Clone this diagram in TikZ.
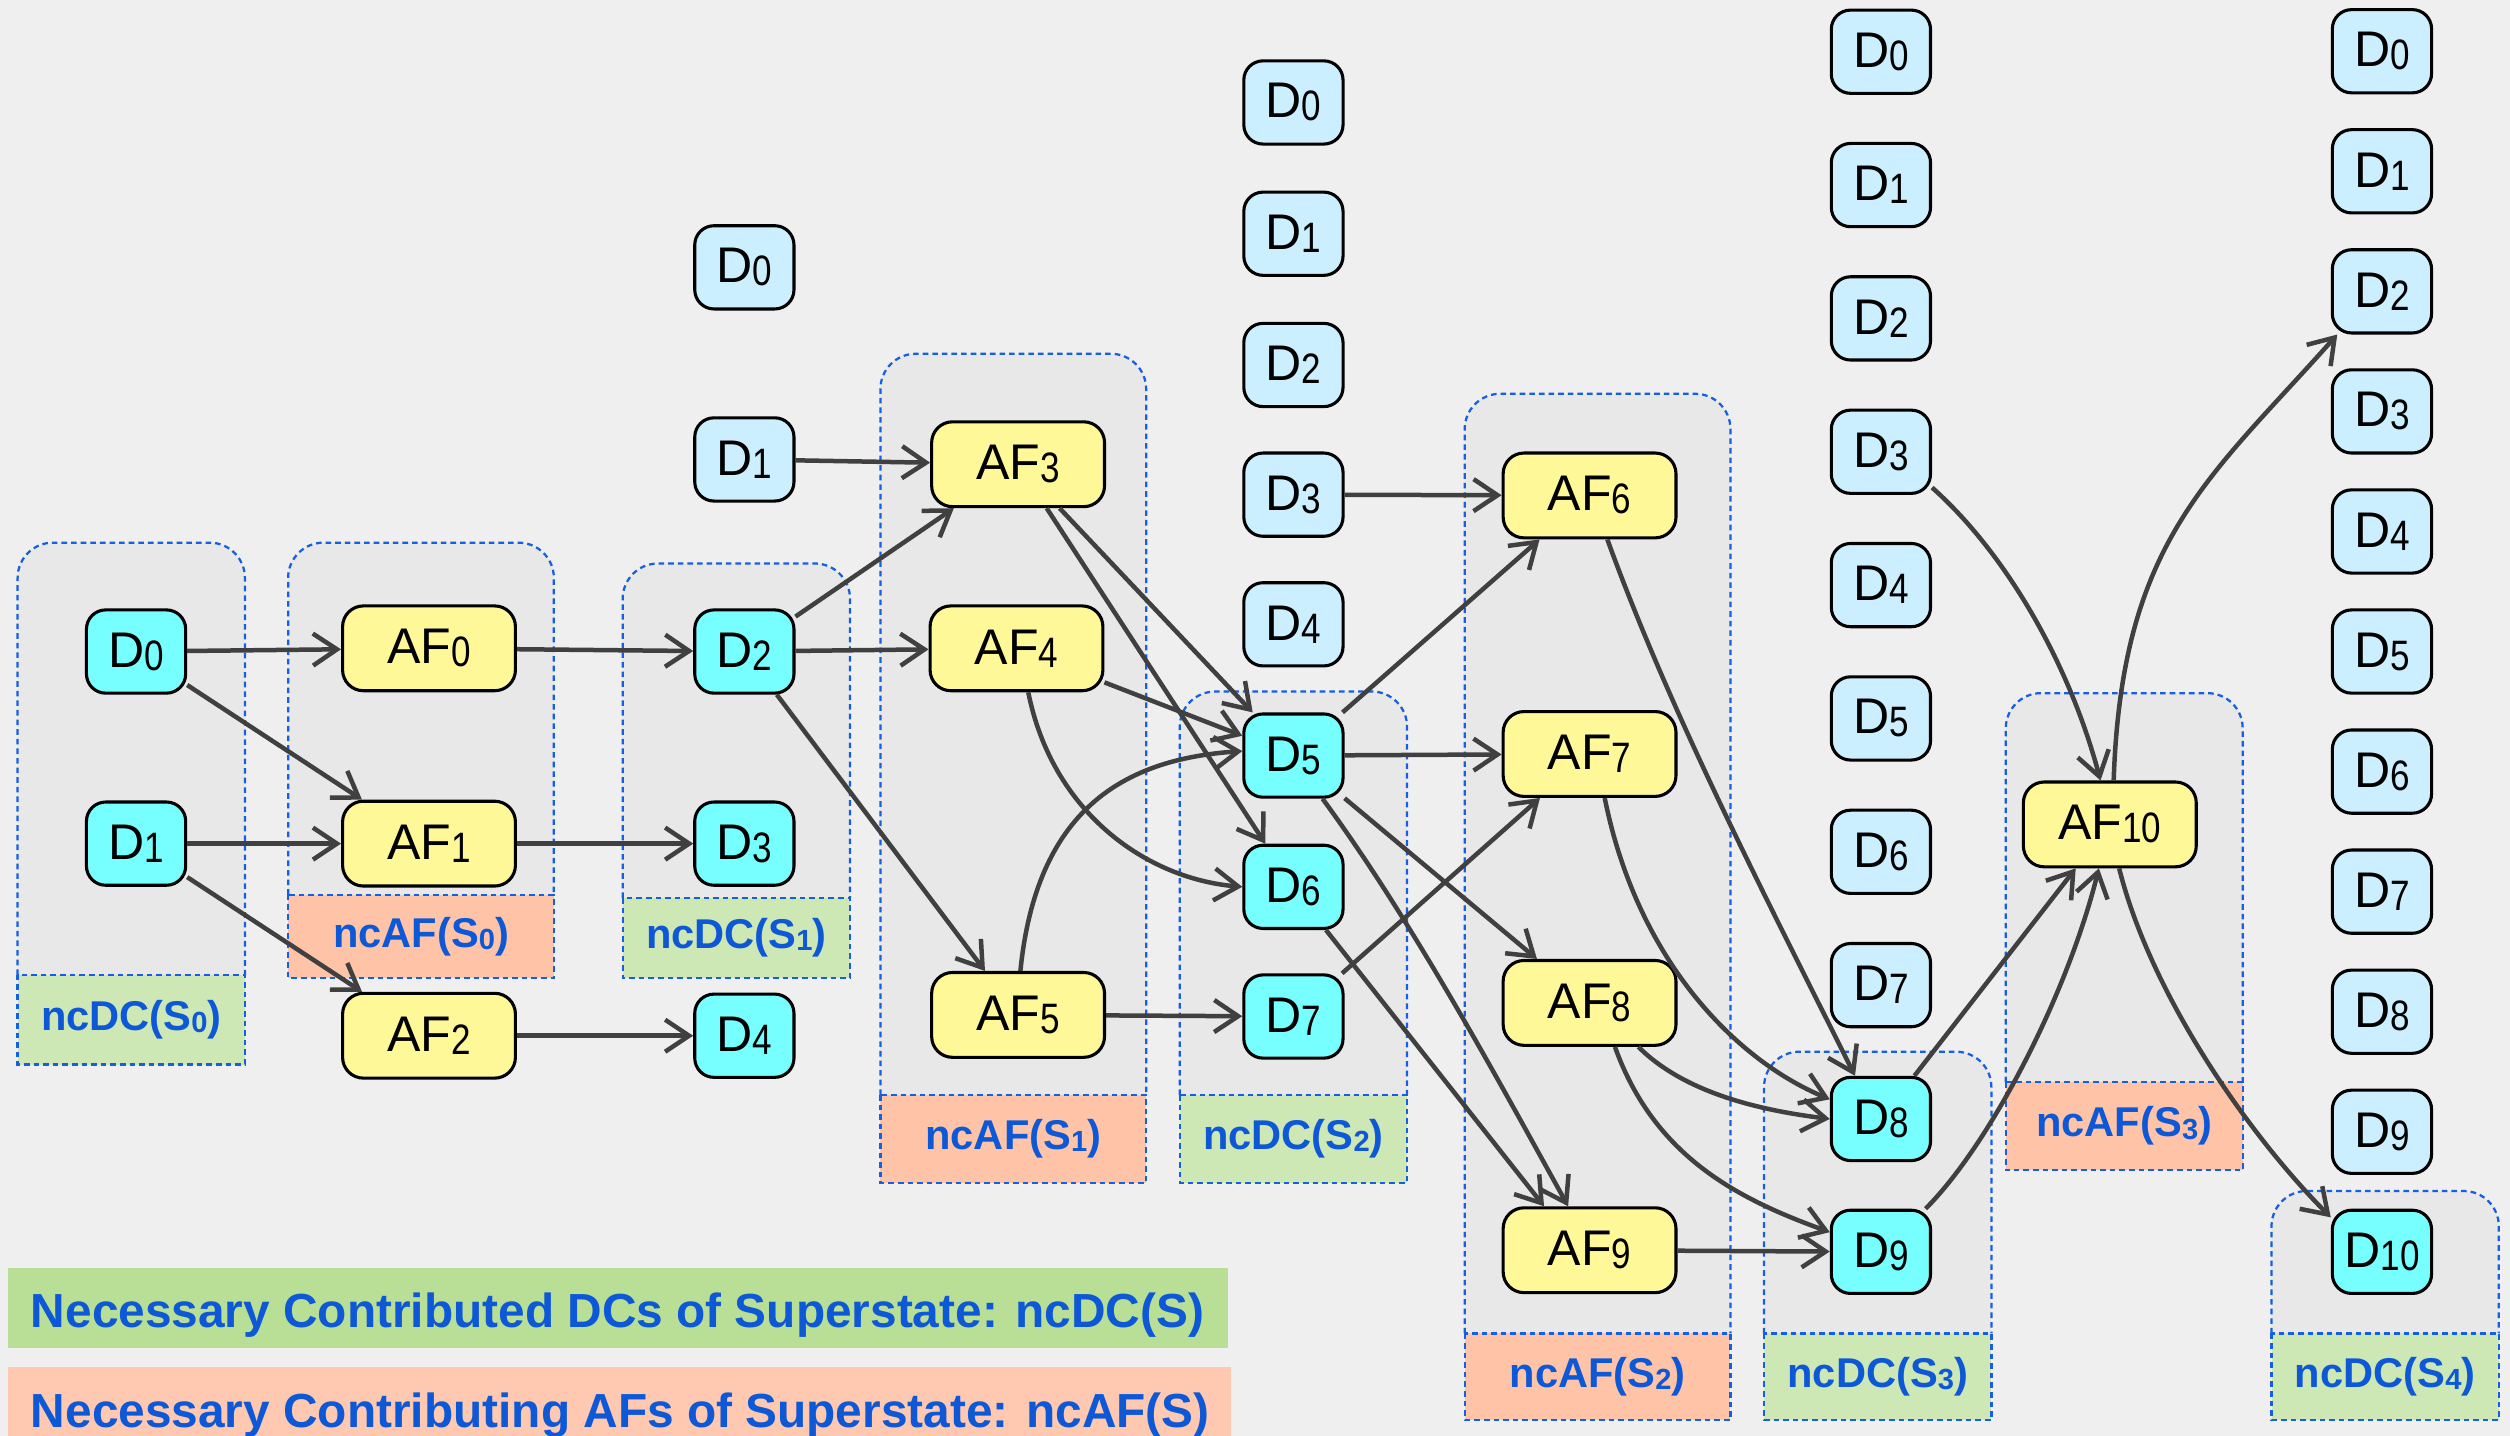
\documentclass[tikz,border=0pt]{standalone}
\usepackage{fontspec}
\setmainfont{Liberation Sans}
\usepackage{graphicx}
\usetikzlibrary{arrows.meta}

\definecolor{bg}{HTML}{EFEFEF}
\definecolor{grpfill}{HTML}{E8E8E8}
\definecolor{grpline}{HTML}{1560E0}
\definecolor{dcact}{HTML}{77FFFF}
\definecolor{dcidle}{HTML}{CCEFFF}
\definecolor{afcol}{HTML}{FFF899}
\definecolor{dclbl}{HTML}{CDE7B5}
\definecolor{aflbl}{HTML}{FFC4A8}
\definecolor{dcleg}{HTML}{B9DF96}
\definecolor{afleg}{HTML}{FFC8B0}
\definecolor{lbltxt}{HTML}{0D58D6}
\definecolor{edgecol}{HTML}{404040}

% subscripts inside the boxes and inside the set labels
\newcommand\nsub[1]{\raisebox{-0.06em}{\scalebox{0.7}[0.85]{#1}}}
\newcommand\lsub[1]{\raisebox{-0.05em}{\scalebox{0.7}[0.7]{#1}}}

% a superstate group: x1, x2, top, label top, label bottom, label fill, label text, label name
\newcommand\grpbox[8]{%
  \fill[grpfill, rounded corners=0.44cm] (#1,#4) -- (#1,#3) -- (#2,#3) -- (#2,#4);
  \draw[grpedge, rounded corners=0.44cm] (#1,#4) -- (#1,#3) -- (#2,#3) -- (#2,#4);
  \filldraw[grpedge, fill=#6] (#1,#4) rectangle (#2,#5);
  \node[lbltext] (#8) at ({(#1+#2)/2},{(#4+#5)/2}) {#7};
}

\begin{document}
\begin{tikzpicture}[x=0.02cm, y=-0.02cm,
  box/.style={draw=black, line width=1.1pt, rounded corners=0.24cm, inner sep=0pt,
    font=\fontsize{17.8}{20}\selectfont, text=black},
  dnode/.style={box, minimum width=1.24cm, minimum height=1.04cm},
  dact/.style={dnode, fill=dcact},
  didle/.style={dnode, fill=dcidle},
  afnode/.style={box, fill=afcol, minimum width=2.16cm, minimum height=1.06cm, rounded corners=0.26cm},
  link/.style={draw=edgecol, line width=1.6pt, -{Straight Barb[length=0.3cm, width=0.4cm]}},
  grpedge/.style={draw=grpline, line width=0.8pt, dash pattern=on 0.07cm off 0.05cm},
  lbltext/.style={inner sep=0pt, text=lbltxt, font=\fontsize{14.8}{16}\selectfont\bfseries},
  legtext/.style={inner sep=0pt, text=lbltxt, font=\fontsize{17}{19}\selectfont\bfseries},
]
\useasboundingbox (0,0) rectangle (1568,897);
\clip (0,0) rectangle (1568,897);
\fill[bg] (0,0) rectangle (1568,897);

% superstate groups
\grpbox{11}{153}{339}{609}{665}{dclbl}{ncDC(S\lsub{0})}{g0}
\grpbox{180}{346}{339}{559}{611}{aflbl}{ncAF(S\lsub{0})}{h0}
\grpbox{389}{531}{352}{561}{611}{dclbl}{ncDC(S\lsub{1})}{g1}
\grpbox{550}{716}{221}{684}{739}{aflbl}{ncAF(S\lsub{1})}{h1}
\grpbox{737}{879}{432}{684}{739}{dclbl}{ncDC(S\lsub{2})}{g2}
\grpbox{915}{1081}{246}{833}{887}{aflbl}{ncAF(S\lsub{2})}{h2}
\grpbox{1102}{1244}{657}{833}{887}{dclbl}{ncDC(S\lsub{3})}{g3}
\grpbox{1253}{1401}{433}{676}{731}{aflbl}{ncAF(S\lsub{3})}{h3}
\grpbox{1419}{1561}{744}{833}{887}{dclbl}{ncDC(S\lsub{4})}{g4}

% legend
\fill[dcleg] (5,792) rectangle (767,842);
\node[legtext, anchor=base west] (leg1) at (19,829) {Necessary Contributed DCs of Superstate: ncDC(S)};
\fill[afleg] (5,854) rectangle (769,900);
\node[legtext, anchor=base west] (leg2) at (19,892) {Necessary Contributing AFs of Superstate: ncAF(S)};

% column 1
\node[dact] (c1d0) at (85,407) {D\nsub{0}};
\node[dact] (c1d1) at (85,527) {D\nsub{1}};
% AFs of S0
\node[afnode] (af0) at (268,405) {AF\nsub{0}};
\node[afnode] (af1) at (268,527) {AF\nsub{1}};
\node[afnode] (af2) at (268,647) {AF\nsub{2}};
% column 3
\node[didle] (c3d0) at (465,167) {D\nsub{0}};
\node[didle] (c3d1) at (465,287) {D\nsub{1}};
\node[dact] (c3d2) at (465,407) {D\nsub{2}};
\node[dact] (c3d3) at (465,527) {D\nsub{3}};
\node[dact] (c3d4) at (465,647) {D\nsub{4}};
% AFs of S1
\node[afnode] (af3) at (636,290) {AF\nsub{3}};
\node[afnode] (af4) at (635,405) {AF\nsub{4}};
\node[afnode] (af5) at (636,634) {AF\nsub{5}};
% column 4
\node[didle] (c4d0) at (808,64) {D\nsub{0}};
\node[didle] (c4d1) at (808,146) {D\nsub{1}};
\node[didle] (c4d2) at (808,228) {D\nsub{2}};
\node[didle] (c4d3) at (808,309) {D\nsub{3}};
\node[didle] (c4d4) at (808,390) {D\nsub{4}};
\node[dact] (c4d5) at (808,472) {D\nsub{5}};
\node[dact] (c4d6) at (808,554) {D\nsub{6}};
\node[dact] (c4d7) at (808,635) {D\nsub{7}};
% AFs of S2
\node[afnode] (af6) at (993,309.5) {AF\nsub{6}};
\node[afnode] (af7) at (993,471) {AF\nsub{7}};
\node[afnode] (af8) at (993,626.5) {AF\nsub{8}};
\node[afnode] (af9) at (993,781) {AF\nsub{9}};
% column 6
\foreach \i in {0,...,7} {
  \node[didle] (c6d\i) at (1175,{32.3+83.3*\i}) {D\nsub{\i}};
}
\node[dact] (c6d8) at (1175,699) {D\nsub{8}};
\node[dact] (c6d9) at (1175,782) {D\nsub{9}};
% AF of S3
\node[afnode] (af10) at (1318,515) {AF\nsub{10}};
% column 7
\foreach \i in {0,...,9} {
  \node[didle] (c7d\i) at (1488,{32+75*\i}) {D\nsub{\i}};
}
\node[dact] (c7d10) at (1488,782) {D\nsub{10}};

% connectors
\draw[link] (c1d0) -- (af0);
\draw[link] (c1d0) -- (af1);
\draw[link] (c1d1) -- (af1);
\draw[link] (c1d1) -- (af2);
\draw[link] (af0) -- (c3d2);
\draw[link] (af1) -- (c3d3);
\draw[link] (af2) -- (c3d4);
\draw[link] (c3d1) -- (af3);
\draw[link] (c3d2) -- (af3);
\draw[link] (c3d2) -- (af4);
\draw[link] (c3d2) -- (af5);
\draw[link] (af3) -- (c4d5);
\draw[link] (af3) -- (c4d6);
\draw[link] (af4) -- (c4d5);
\draw[link] (af4.-75) .. controls +(15,75) and +(-60,-5) .. (c4d6.west);
\draw[link] (af5.87) .. controls +(10,-100) and +(-75,5) .. (c4d5.175);
\draw[link] (af5) -- (c4d7);
\draw[link] (c4d3) -- (af6);
\draw[link] (c4d5) -- (af6);
\draw[link] (c4d5) -- (af7);
\draw[link] (c4d5) -- (af8);
\draw[link] (c4d5.-56) .. controls +(55,75) and +(-47,-85) .. (af9.116);
\draw[link] (c4d6.-53) -- (af9.136);
\draw[link] (c4d7) -- (af7);
\draw[link] (af6.-68) .. controls +(40,110) and +(-55,-110) .. (c6d8.121);
\draw[link] (af7.-71) .. controls +(20,100) and +(-60,-25) .. (c6d8.159);
\draw[link] (af8.-42) .. controls +(30,30) and +(-40,-5) .. (c6d8.west);
\draw[link] (af8.-60) .. controls +(25,70) and +(-55,-20) .. (c6d9.159);
\draw[link] (af9) -- (c6d9);
\draw[link] (c6d3.-35) .. controls +(45,40) and +(-20,-75) .. (af10.102);
\draw[link] (c6d8) -- (af10);
\draw[link] (c6d9.44) .. controls +(40,-40) and +(-20,80) .. (af10.-104);
\draw[link] (af10.85) .. controls +(5,-150) and +(-80,90) .. (c7d2.224);
\draw[link] (af10.-78) .. controls +(20,80) and +(-50,-50) .. (c7d10.146);
\end{tikzpicture}
\end{document}
